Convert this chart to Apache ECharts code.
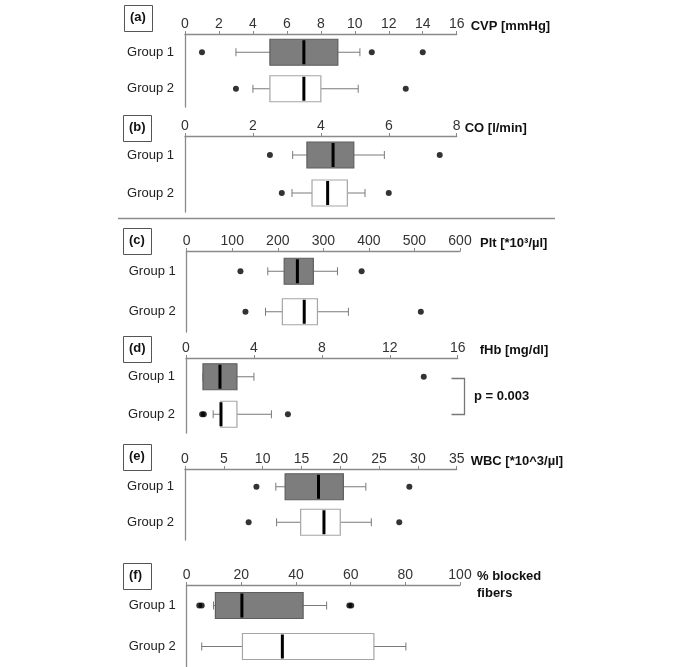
<!DOCTYPE html>
<html>
<head>
<meta charset="utf-8">
<script src="https://cdn.jsdelivr.net/npm/echarts@6/dist/echarts.min.js"></script>
<style>
html,body{margin:0;padding:0;background:#fff;}
#chart{width:685px;height:667px;}
</style>
</head>
<body>
<div id="chart"></div>
<script>
// ---- data ----
const groups = ['Group 1', 'Group 2'];
const panelTags = ['(a)', '(b)', '(c)', '(d)', '(e)', '(f)'];
const axisNames = ['CVP [mmHg]', 'CO [l/min]', 'Plt [*10³/µl]', 'fHb [mg/dl]', 'WBC [*10^3/µl]', '% blocked\nfibers'];
const axisMax = [16, 8, 600, 16, 35, 100];
const axisStep = [2, 2, 100, 4, 5, 20];

// box stats per group: [whisker low, Q1, median, Q3, whisker high]
const cvpBox = [[3, 5, 7, 9, 10.3], [4, 5, 7, 8, 10.2]];
const cvpOut = [[1, 11, 14], [3, 13]];
const coBox = [[3.17, 3.59, 4.36, 4.97, 5.87], [3.15, 3.74, 4.2, 4.78, 5.3]];
const coOut = [[2.5, 7.5], [2.85, 6.0]];
const pltBox = [[178, 214, 243, 278, 331], [173, 210, 258, 287, 355]];
const pltOut = [[118, 384], [129, 514]];
const fhbBox = [[1.0, 1.0, 2.0, 3.0, 4.0], [1.6, 2.05, 2.06, 3.0, 5.03]];
const fhbOut = [[14.0], [0.95, 1.05, 6.0]];
const wbcBox = [[11.7, 12.9, 17.2, 20.4, 23.3], [11.8, 14.9, 17.9, 20.0, 24.0]];
const wbcOut = [[9.2, 28.9], [8.2, 27.6]];
const fibBox = [[9.8, 10.5, 20.2, 42.6, 51.2], [5.5, 20.4, 35.0, 68.5, 80.2]];
const fibOut = [[4.6, 5.5, 59.5, 60.2], []];
const pValueText = 'p = 0.003';

const allBox = [cvpBox, coBox, pltBox, fhbBox, wbcBox, fibBox];
const allOut = [cvpOut, coOut, pltOut, fhbOut, wbcOut, fibOut];

// ---- layout ----
const FONT = "'Liberation Sans', Arial, Helvetica, sans-serif";
const gridSpec = [
  {left: 185, right: 228.3, top: 34, height: 73},
  {left: 185, right: 228.3, top: 136, height: 76},
  {left: 186.7, right: 225, top: 251, height: 81},
  {left: 186, right: 227.3, top: 358, height: 75},
  {left: 185, right: 228.3, top: 469, height: 71},
  {left: 186.7, right: 225, top: 585, height: 84}
];
const nameGaps = [14, 8, 20, 22, 14, 17];
const tagBoxes = [
  {x: 124, y: 5}, {x: 123, y: 115}, {x: 123, y: 228},
  {x: 123, y: 336}, {x: 123, y: 444}, {x: 123, y: 563}
];

function renderBox(params, api) {
  const cat = api.value(0);
  const pLo = api.coord([api.value(1), cat]);
  const pQ1 = api.coord([api.value(2), cat]);
  const pMd = api.coord([api.value(3), cat]);
  const pQ3 = api.coord([api.value(4), cat]);
  const pHi = api.coord([api.value(5), cat]);
  const y = pLo[1];
  const h = 26, cap = 4;
  const dark = cat === 0;
  const wStyle = {stroke: '#7a7a7a', lineWidth: 1};
  return {
    type: 'group',
    children: [
      {type: 'line', shape: {x1: pLo[0], y1: y, x2: pQ1[0], y2: y}, style: wStyle},
      {type: 'line', shape: {x1: pLo[0], y1: y - cap, x2: pLo[0], y2: y + cap}, style: wStyle},
      {type: 'line', shape: {x1: pQ3[0], y1: y, x2: pHi[0], y2: y}, style: wStyle},
      {type: 'line', shape: {x1: pHi[0], y1: y - cap, x2: pHi[0], y2: y + cap}, style: wStyle},
      {type: 'rect', shape: {x: pQ1[0], y: y - h / 2, width: pQ3[0] - pQ1[0], height: h},
        style: {fill: dark ? '#7d7d7d' : '#ffffff', stroke: dark ? '#5e5e5e' : '#a5a5a5', lineWidth: 1.2}},
      {type: 'line', shape: {x1: pMd[0], y1: y - h / 2 + 1, x2: pMd[0], y2: y + h / 2 - 1},
        style: {stroke: '#000', lineWidth: 3}}
    ]
  };
}

const grid = [], xAxis = [], yAxis = [], series = [];
for (let i = 0; i < 6; i++) {
  grid.push(Object.assign({containLabel: false}, gridSpec[i]));
  const multi = axisNames[i].indexOf('\n') >= 0;
  xAxis.push({
    gridIndex: i, type: 'value', position: 'top',
    min: 0, max: axisMax[i], interval: axisStep[i],
    name: axisNames[i], nameLocation: 'end', nameGap: nameGaps[i],
    nameTextStyle: {
      fontFamily: FONT, fontSize: 13, fontWeight: 'bold', color: '#111',
      align: 'left', verticalAlign: multi ? 'middle' : 'bottom',
      lineHeight: multi ? 17 : 14, padding: multi ? [8, 0, 0, 0] : [0, 0, 1, 0]
    },
    axisLine: {show: true, lineStyle: {color: '#8a8a8a', width: 1.3}},
    axisTick: {show: true, length: 3, lineStyle: {color: '#8a8a8a'}},
    axisLabel: {fontFamily: FONT, fontSize: 14, color: '#333', margin: 3},
    splitLine: {show: false}
  });
  yAxis.push({
    gridIndex: i, type: 'category', data: groups, inverse: true,
    axisLine: {show: true, lineStyle: {color: '#8a8a8a', width: 1.3}},
    axisTick: {show: false},
    axisLabel: {fontFamily: FONT, fontSize: 13, color: '#222', margin: 11},
    splitLine: {show: false}
  });
  const boxData = allBox[i].map((b, g) => [g].concat(b));
  series.push({
    type: 'custom', xAxisIndex: i, yAxisIndex: i,
    renderItem: renderBox,
    encode: {x: [1, 2, 3, 4, 5], y: 0},
    data: boxData, z: 2
  });
  const outData = [];
  allOut[i].forEach((arr, g) => arr.forEach(v => outData.push([v, g])));
  series.push({
    type: 'scatter', xAxisIndex: i, yAxisIndex: i,
    symbol: 'circle', symbolSize: 6,
    itemStyle: {color: '#000'},
    data: outData, z: 3
  });
}

const graphic = [];
tagBoxes.forEach((t, i) => {
  graphic.push({type: 'rect', left: t.x, top: t.y, shape: {width: 28, height: 26},
    style: {fill: '#fff', stroke: '#555', lineWidth: 1}});
  graphic.push({type: 'text', left: t.x + 6, top: t.y + 6,
    style: {text: panelTags[i], font: 'bold 13px ' + FONT, fill: '#111'}});
});
// separator line
graphic.push({type: 'line', shape: {x1: 118, y1: 218.5, x2: 555, y2: 218.5},
  style: {stroke: '#8c8c8c', lineWidth: 1.5}});
// significance bracket
graphic.push({type: 'polyline', shape: {points: [[451.5, 378.5], [464.5, 378.5], [464.5, 414.5], [451.5, 414.5]]},
  style: {stroke: '#777', lineWidth: 1.3, fill: null}});
graphic.push({type: 'text', left: 474, top: 390,
  style: {text: pValueText, font: 'bold 13px ' + FONT, fill: '#111'}});

const chart = echarts.init(document.getElementById('chart'), null, {renderer: 'canvas'});
chart.setOption({
  animation: false,
  backgroundColor: '#fff',
  grid, xAxis, yAxis, series, graphic
});
</script>
</body>
</html>
